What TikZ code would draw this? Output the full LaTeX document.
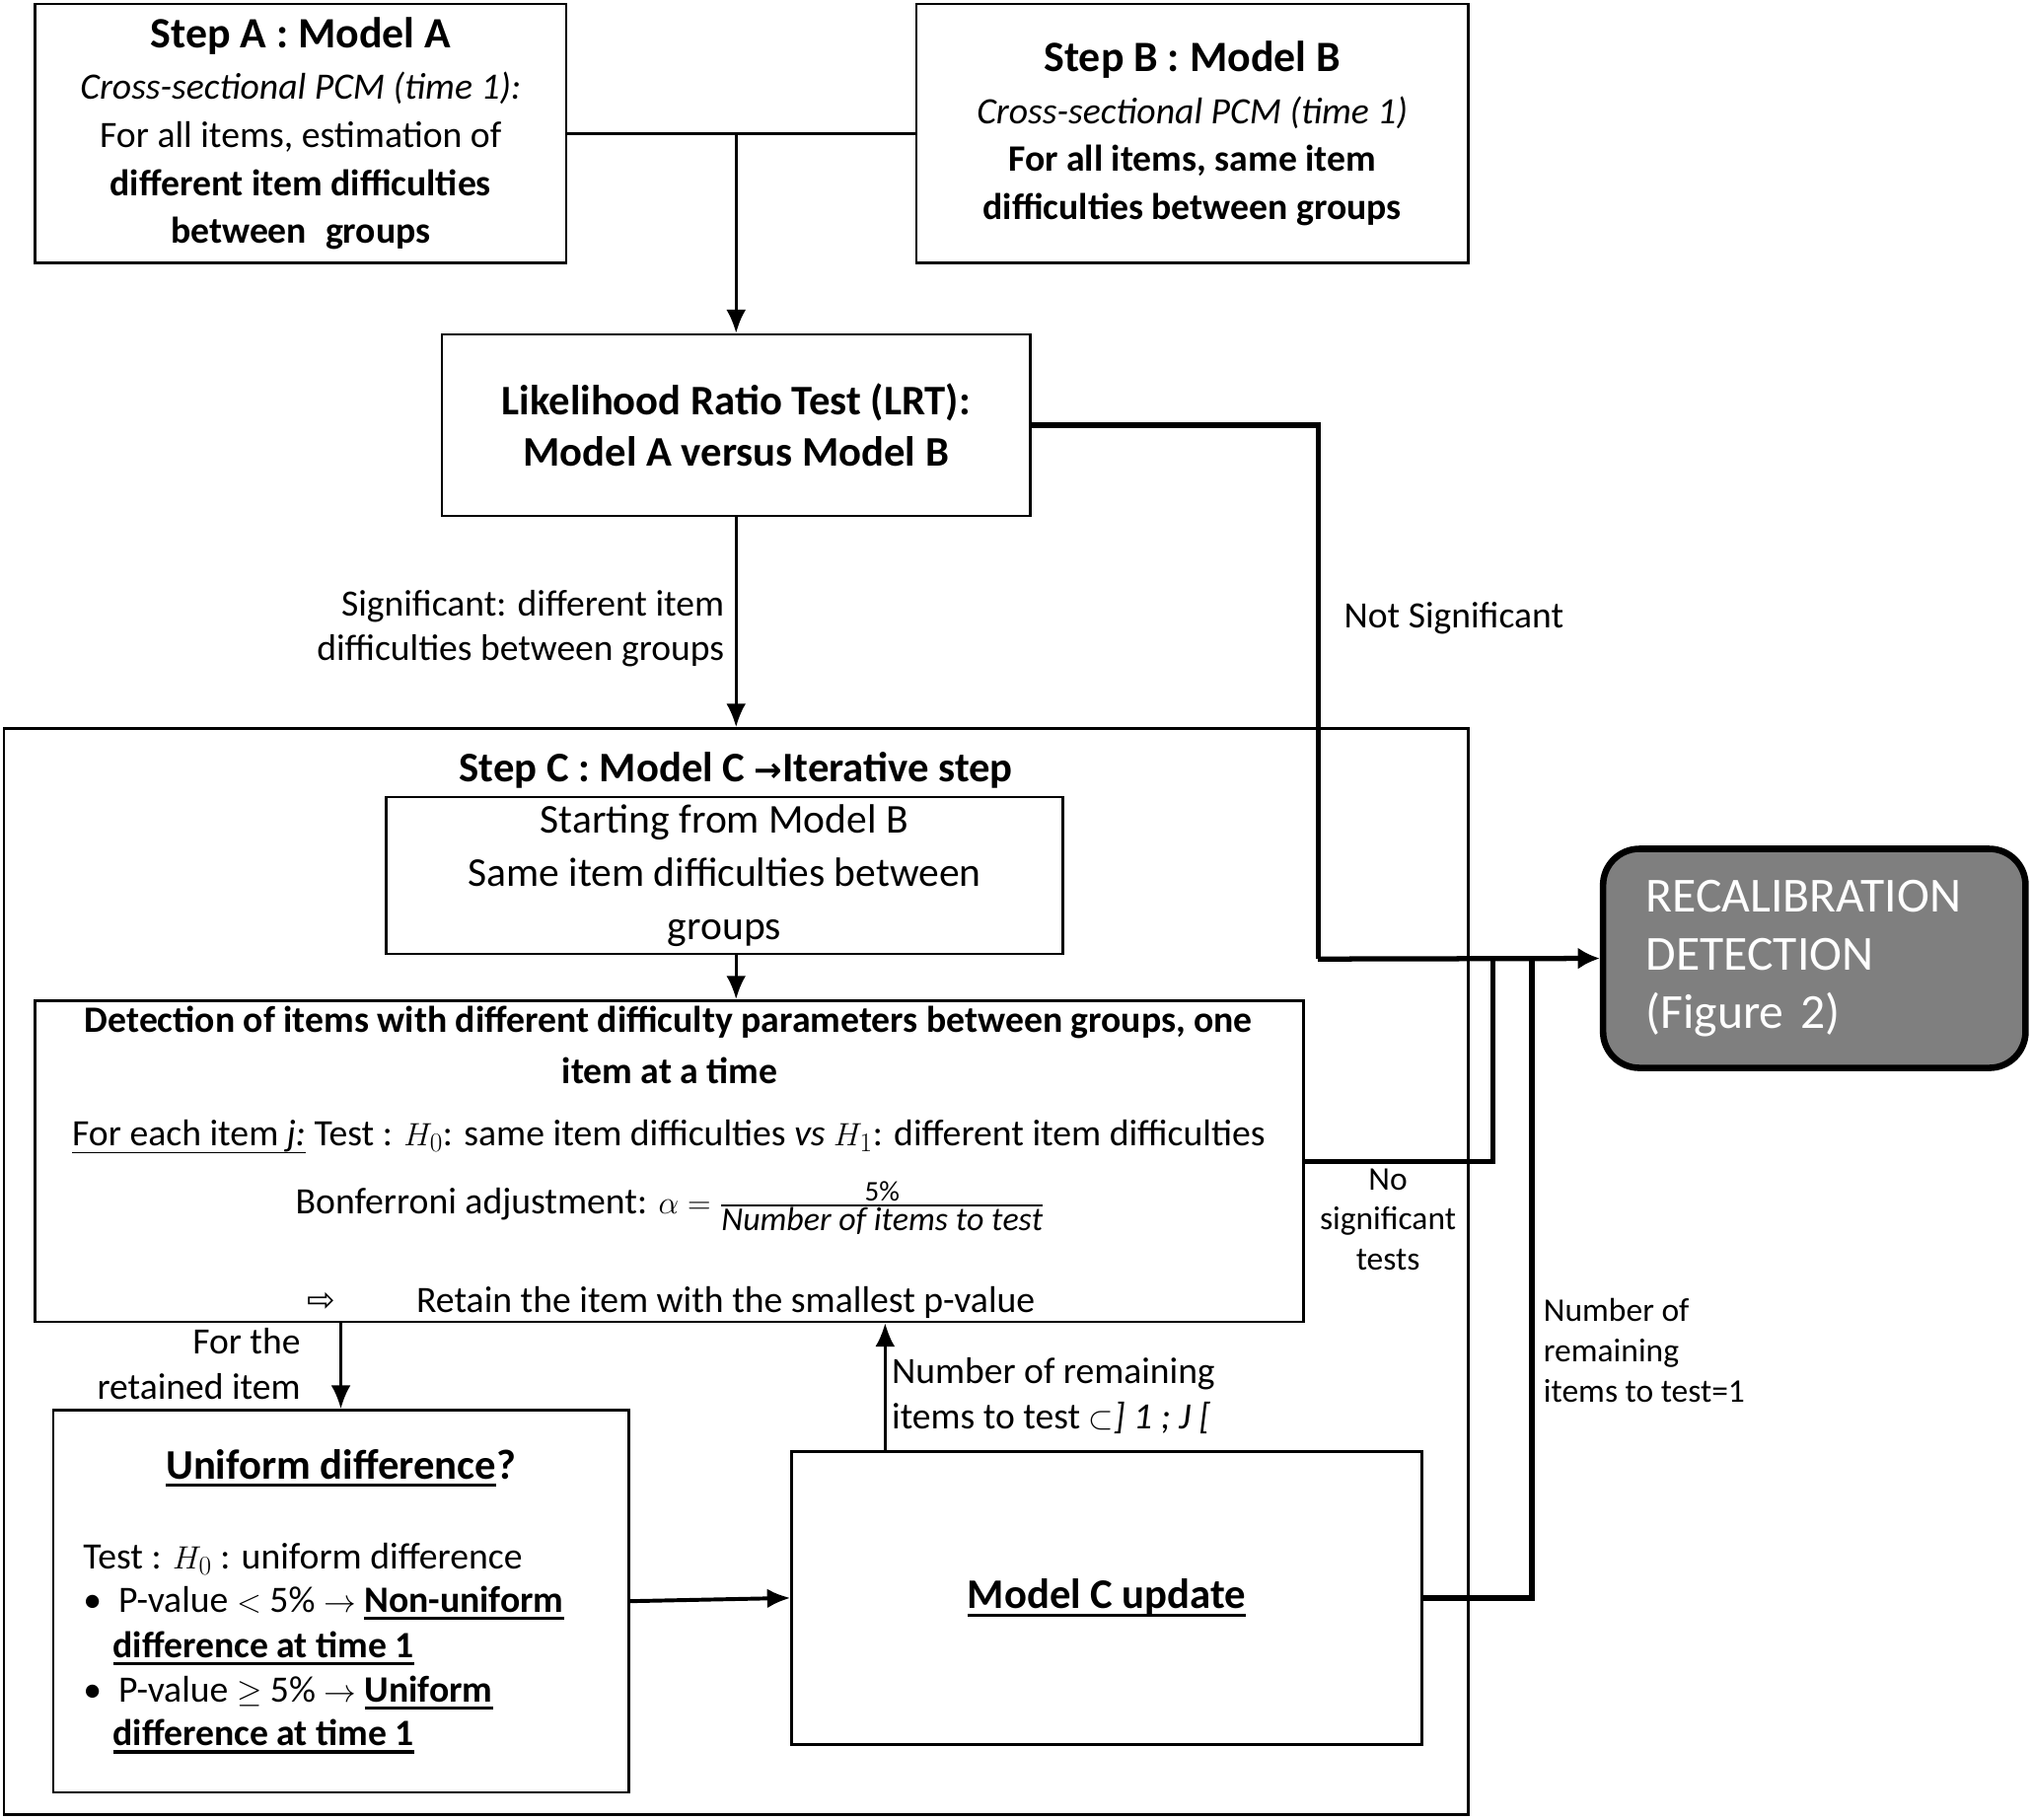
\documentclass[tikz,border=0pt]{standalone}
\usepackage{amsmath}
\usepackage{fontspec}
\setmainfont{Carlito}
\newfontfamily\dejavu{DejaVu Sans}
\usetikzlibrary{arrows.meta,calc}
\definecolor{recgray}{HTML}{7F7F7F}
\newcommand\fbody{\fontsize{28.7}{37}\selectfont}
\newcommand\fhead{\fontsize{32.5}{40}\selectfont\bfseries}
\newcommand\flab{\fontsize{28.6}{35}\selectfont}
\newcommand\fsmall{\fontsize{25.5}{31}\selectfont}
\newcommand\frec{\fontsize{37.8}{45}\selectfont}
\newcommand\myul[2][2.5pt]{\setbox0\hbox{#2}\rlap{\raisebox{-6pt}{\rule{\wd0}{#1}}}\box0\relax}
\begin{document}
\begin{tikzpicture}[x=1pt,y=-1pt,
  box/.style={draw, line width=2pt, inner sep=0pt, align=center, font=\fbody},
  arr/.style={line width=2pt, -{Latex[length=18pt,width=15pt]}},
  thk/.style={line width=4pt},
  lab/.style={font=\flab, inner sep=0pt},
  txt/.style={font=\fbody, inner sep=0pt}
]
\fill[white] (0,0) rectangle (1568,1404);
\useasboundingbox (0,0) rectangle (1568,1404);

% top boxes
\node[box, minimum width=410pt, minimum height=200pt] (A) at (232,103)
  {{\fontsize{33.4}{40}\selectfont\bfseries Step A : Model A}\\[3pt]\textit{Cross-sectional PCM (time 1):}\\For all items, estimation of\\\textbf{different item difficulties}\\\textbf{between\enspace groups}};
\node[box, minimum width=426pt, minimum height=200pt] (B) at (920,103)
  {{\fontsize{33.4}{40}\selectfont\bfseries Step B : Model B}\\[3pt]\textit{Cross-sectional PCM (time 1)}\\\textbf{For all items, same item}\\\textbf{difficulties between groups}};
\node[box, font=\fhead, minimum width=454pt, minimum height=140pt] (L) at (568,328)
  {Likelihood Ratio Test (LRT):\\Model A versus Model B};

% step C container
\node[box, minimum width=1130pt, minimum height=838pt] (C) at (568,981) {};
\node[txt, font=\fhead] (ct) at (568,594) {Step C : Model C {\dejavu\fontsize{26}{26}\selectfont →}Iterative step};
\node[box, font=\fontsize{31.6}{41}\selectfont, minimum width=522pt, minimum height=121pt] (S) at (559,675.5)
  {Starting from Model B\\Same item difficulties between\\groups};

% detection box
\node[box, minimum width=979pt, minimum height=248pt] (D) at (516.5,896) {};
\node[txt, font=\fbody\bfseries] (d1) at (516,789) {Detection of items with different difficulty parameters between groups, one};
\node[txt, font=\fbody\bfseries] (d2) at (517,826) {item at a time};
\node[txt] (d3) at (516,877) {\myul[1.2pt]{For each item \textit{j:}} Test : $H_0$: same item difficulties \textit{vs} $H_1$: different item difficulties};
\node[txt] (d4) at (517,932) {Bonferroni adjustment: $\alpha = \frac{\text{\fontsize{22}{22}\selectfont 5\%}}{\text{\fontsize{25.8}{26}\selectfont$\mathit{Number\ of\ items\ to\ test}$}}$};
\node[txt] (d5) at (248,1005) {\dejavu\fontsize{26}{26}\selectfont ⇨};
\node[txt] (d6) at (560,1005) {Retain the item with the smallest p-value};

% uniform box
\node[box, minimum width=444pt, minimum height=295pt] (U) at (263,1235.5) {};
\node[txt, font=\fhead] (u1) at (263,1133) {\myul{Uniform difference}?};
\node[txt, anchor=west] (u2) at (64,1203) {Test : $H_0$ : uniform difference};
\node[txt, anchor=west] (u3) at (64,1237) {\textbullet\ \ P-value $<$ 5\% $\rightarrow$ \textbf{\myul{Non-uniform}}};
\node[txt, anchor=west] (u4) at (87,1272) {\textbf{\myul{difference at time 1}}};
\node[txt, anchor=west] (u5) at (64,1306) {\textbullet\ \ P-value $\geq$ 5\% $\rightarrow$ \textbf{\myul{Uniform}}};
\node[txt, anchor=west] (u6) at (87,1340) {\textbf{\myul{difference at time 1}}};

% model C update
\node[box, font=\fhead, minimum width=486pt, minimum height=226pt] (M) at (854,1233) {\myul{Model C update}};

% recalibration
\node[draw=black, line width=5pt, fill=recgray, rounded corners=28pt, minimum width=326pt, minimum height=169pt,
  inner sep=0pt, text=white, align=left, text width=260pt, font=\frec] (R) at (1400,739.5)
  {RECALIBRATION\\DETECTION\\(Figure 2)};

% connectors
\coordinate (j1) at (L.north |- A.east);
\draw[line width=2pt] (A.east) -- (B.west);
\draw[arr] (j1) -- (L.north);
\coordinate (ns) at (1017,740);
\draw[thk, line join=miter] (L.east) -| (ns);
\draw[thk, -{Latex[length=17pt,width=17pt]}] (ns) -- (R.west);
\draw[arr] (L.south) -- (C.north);
\draw[arr] (C.north |- S.south) -- (C.north |- D.north);
\draw[arr] (U.north |- D.south) -- (U.north);
\draw[line width=3pt, -{Latex[length=18pt,width=15pt]}] (U.east) -- (M.west);
\coordinate (upx) at (683,0);
\draw[arr] (M.north -| upx) -- (D.south -| upx);
\coordinate (nst) at (1152,740);
\draw[thk] (D.east) -| (nst);
\coordinate (one) at (1182,740);
\draw[thk] (M.east) -| (one);

% labels
\node[lab, anchor=east, align=right] (l1) at (559,485) {Significant: different item\\difficulties between groups};
\node[lab, anchor=west] (l2) at (1037,477) {Not Significant};
\node[lab, font=\fsmall, align=center] (l3) at (1071,941) {No\\significant\\tests};
\node[lab, font=\fsmall, anchor=west, align=left] (l4) at (1191,1042) {Number of\\remaining\\items to test=1};
\node[lab, anchor=east, align=right] (l5) at (232,1052) {For the\\retained item};
\node[lab, anchor=west, align=left] (l6) at (688,1077) {Number of remaining\\items to test $\subset$\textit{] 1 ; J [}};
\end{tikzpicture}
\end{document}
